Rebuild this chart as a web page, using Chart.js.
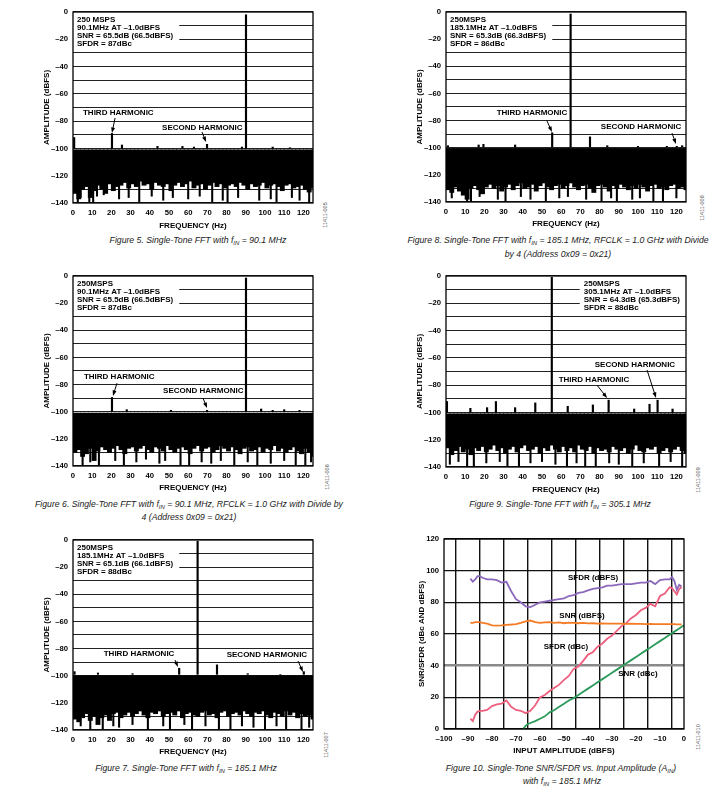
<!DOCTYPE html>
<html>
<head>
<meta charset="utf-8">
<script src="https://cdn.jsdelivr.net/npm/chart.js@4.4.1/dist/chart.umd.min.js"></script>
<style>
  body { margin: 0; background: #fff; width: 721px; height: 800px; position: relative; overflow: hidden;
         font-family: "Liberation Sans", Arial, sans-serif; }
  canvas { position: absolute; }
  .cap { position: absolute; font-style: italic; font-size: 8.7px; color: #222; white-space: nowrap;
         transform: translate(-50%, -50%); line-height: 1; }
  .cap sub { font-size: 6px; vertical-align: baseline; position: relative; top: 1.5px; }
  .fid { position: absolute; font-size: 5.5px; color: #555; white-space: nowrap;
         transform: translate(-50%, -50%) rotate(-90deg); }
</style>
</head>
<body>
<canvas id="fig5"></canvas>
<canvas id="fig8"></canvas>
<canvas id="fig6"></canvas>
<canvas id="fig9"></canvas>
<canvas id="fig7"></canvas>
<canvas id="fig10"></canvas>

<div class="cap" style="left:198px;top:240px">Figure 5. Single-Tone FFT with f<sub>IN</sub> = 90.1 MHz</div>
<div class="cap" style="left:558px;top:240px">Figure 8. Single-Tone FFT with f<sub>IN</sub> = 185.1 MHz, RFCLK = 1.0 GHz with Divide</div>
<div class="cap" style="left:558px;top:254px">by 4 (Address 0x09 = 0x21)</div>
<div class="cap" style="left:189px;top:504px">Figure 6. Single-Tone FFT with f<sub>IN</sub> = 90.1 MHz, RFCLK = 1.0 GHz with Divide by</div>
<div class="cap" style="left:189px;top:517px">4 (Address 0x09 = 0x21)</div>
<div class="cap" style="left:560px;top:504px">Figure 9. Single-Tone FFT with f<sub>IN</sub> = 305.1 MHz</div>
<div class="cap" style="left:186px;top:768px">Figure 7. Single-Tone FFT with f<sub>IN</sub> = 185.1 MHz</div>
<div class="cap" style="left:561px;top:768px">Figure 10. Single-Tone SNR/SFDR vs. Input Amplitude (A<sub>IN</sub>)</div>
<div class="cap" style="left:562px;top:781px">with f<sub>IN</sub> = 185.1 MHz</div>

<div class="fid" style="left:325px;top:215px">11411-005</div>
<div class="fid" style="left:702px;top:208px">11411-008</div>
<div class="fid" style="left:327px;top:477px">11411-006</div>
<div class="fid" style="left:698px;top:480px">11411-009</div>
<div class="fid" style="left:326px;top:745px">11411-007</div>
<div class="fid" style="left:698px;top:737px">11411-010</div>

<script>
// ---- tick values ----
const fftTicksX = [0, 10, 20, 30, 40, 50, 60, 70, 80, 90, 100, 110, 120];
const fftTicksY = [-140, -130, -120, -110, -100, -90, -80, -70, -60, -50, -40, -30, -20, -10, 0];
const ampTicksX = [-100, -95, -90, -85, -80, -75, -70, -65, -60, -55, -50, -45, -40, -35, -30, -25, -20, -15, -10, -5, 0];
const ampTicksY = [0, 20, 40, 60, 80, 100, 120];

// ---- FFT noise floor: bottom edge per 2 Hz bin, thin dropouts, spurs [freq, dBFS] ----
const fig5Lo = [-133,-137,-130,-128,-136,-131,-127,-130,-133,-126,-131,-128,-127,-125,-129,-126,
                -128,-124,-127,-126,-130,-125,-127,-128,-126,-131,-127,-125,-128,-126,-124,-129,
                -127,-126,-130,-127,-125,-128,-126,-129,-127,-126,-128,-125,-127,-130,-126,-128,
                -127,-125,-129,-127,-126,-128,-131,-127,-126,-129,-128,-127,-130,-132,-129];
const fig5Drops = [[2.5,-140],[4,-136],[8.5,-139],[10.5,-140],[12.5,-135],[16,-134],[24,-137],[29,-136],
                   [34.5,-139],[41,-135],[47,-138],[52,-136],[60,-137],[66,-135],[72.5,-139],[78,-138],
                   [80.5,-140],[86,-136],[97,-138],[103,-137],[106,-139],[114,-136],[118,-138],[123,-140]];
const fig5Spurs = [[0.6,-92],[20.3,-89],[25.5,-97.5],[44,-98.5],[57,-98.5],[63,-99],[69.8,-97],
                   [88,-99],[90.1,-2],[104,-99],[113,-99.5]];

const fig8Lo = [-131,-133,-129,-132,-135,-138,-130,-128,-131,-134,-129,-127,-130,-128,-132,-129,
                -127,-131,-128,-126,-130,-129,-127,-132,-128,-126,-129,-131,-128,-127,-130,-128,
                -126,-129,-131,-128,-127,-130,-133,-128,-127,-129,-132,-128,-130,-127,-129,-131,
                -128,-130,-127,-129,-132,-128,-127,-130,-129,-131,-128,-127,-130,-129,-131];
const fig8Drops = [[3,-137],[11,-140],[13,-140],[17.5,-136],[27,-138],[31,-140],[39,-136],[44,-138],
                   [52,-139],[59,-137],[63.5,-136],[73,-138],[81,-140],[86,-137],[89,-139],[97,-138],
                   [101,-137],[108,-139],[113,-140],[120,-137]];
const fig8Spurs = [[1,-98.5],[17,-98],[19.5,-97.5],[36,-98],[55.3,-89],[64.9,-1.5],[75,-92],
                   [84,-98.5],[100,-99],[115,-99],[120.2,-99],[123,-98.5]];

const fig6Lo = [-130,-128,-133,-131,-127,-136,-129,-126,-128,-130,-127,-125,-128,-131,-127,-126,
                -129,-127,-125,-128,-130,-126,-127,-129,-125,-128,-130,-127,-126,-128,-131,-127,
                -125,-129,-127,-126,-130,-128,-125,-127,-129,-126,-128,-131,-127,-126,-129,-128,
                -126,-130,-127,-128,-125,-129,-127,-130,-128,-126,-129,-131,-127,-130,-133];
const fig6Drops = [[5,-139],[9,-137],[13.5,-140],[22,-136],[26.5,-139],[33,-137],[38,-135],[45,-138],
                   [48,-136],[56,-139],[60.5,-140],[67,-137],[72,-138],[77,-136],[84,-139],[91,-137],
                   [96,-140],[103,-138],[110,-136],[116,-139],[121,-140],[124,-137]];
const fig6Spurs = [[20.3,-89.5],[28,-98.5],[51,-99],[69.8,-99],[90.1,-1.5],[98,-98],[104,-99],
                   [110,-98.5],[118,-99]];

const fig9Lo = [-126,-131,-128,-125,-129,-127,-131,-126,-128,-125,-129,-127,-124,-128,-126,-130,
                -127,-125,-129,-126,-124,-128,-127,-125,-130,-126,-128,-124,-127,-129,-125,-128,
                -126,-129,-124,-127,-128,-125,-130,-126,-128,-127,-129,-125,-127,-128,-126,-130,
                -127,-124,-128,-129,-126,-127,-125,-130,-128,-126,-129,-127,-125,-128,-130];
const fig9Drops = [[2,-138],[6.5,-136],[11,-140],[14.5,-140],[21,-137],[28,-136],[32,-139],[38,-140],
                   [44,-137],[50,-136],[57,-138],[63,-140],[68,-137],[72.5,-140],[78,-139],[85,-137],
                   [90,-138],[97,-140],[103,-137],[111,-139],[117,-136],[123,-140]];
const fig9Spurs = [[0.5,-92],[12.7,-97],[21.4,-96.5],[26,-92],[36,-96.5],[46.5,-93],[55.1,-1],
                   [63.4,-95.5],[76.5,-94.5],[84.7,-91],[98,-97.5],[106,-94],[110.2,-91],[118,-97.5]];

const fig7Lo = [-132,-134,-131,-128,-133,-130,-136,-131,-129,-133,-128,-127,-131,-129,-127,-130,
                -128,-126,-129,-131,-127,-128,-126,-130,-128,-127,-129,-126,-131,-128,-127,-129,
                -130,-127,-126,-129,-128,-131,-127,-126,-130,-128,-127,-129,-126,-128,-130,-127,
                -128,-126,-129,-131,-127,-128,-130,-126,-129,-127,-131,-128,-130,-129,-132];
const fig7Drops = [[4,-137],[9,-140],[15.5,-140],[21,-137],[24,-138],[31,-136],[39,-140],[47,-137],
                   [50.5,-139],[58,-136],[62,-140],[69,-137],[76,-139],[82,-140],[88,-137],[94,-138],
                   [100,-140],[106,-137],[111,-139],[119,-140],[123,-138]];
const fig7Spurs = [[0.8,-97],[13,-98],[31,-98.5],[55.3,-94.5],[64.9,-1],[75,-92],[91,-98.5],
                   [108,-99],[120.2,-97]];

// ---- Figure 10: SNR/SFDR vs input amplitude ----
const ampIn = [-89,-88,-87,-86,-85,-84,-82,-80,-78,-76,-74,-72,-70,-68,-66,-64,-62,-60,-58,-56,
               -54,-52,-50,-48,-46,-44,-42,-40,-38,-36,-34,-32,-30,-28,-26,-24,-22,-20,-18,-16,
               -14,-12,-10,-8,-6,-5,-4,-3,-2,-1];
const sfdrDbfs = [95,93,94.5,96.5,96.5,95.5,94.5,94.5,94,92.5,93,87,82,80,77.5,77,78.5,80,80.5,81,
                  81.5,82,82.5,84,84.5,86,86.5,87.5,88.5,89,89.5,90.5,90.5,91,91.5,91.5,91.5,92,92.5,92.5,
                  93.5,91.5,94,94.5,94.5,96,93.5,88,91,90];
const snrDbfs = [67,67,67.5,67.5,67.5,67,66.5,65.5,65.3,65.5,65.8,66,66.3,67,68,68.5,67.5,67,67.3,67.5,
                 67,67.3,66.8,67.2,67,66.8,67,66.7,66.8,66.6,66.7,66.5,66.6,66.5,66.5,66.4,66.5,66.4,66.4,66.3,
                 66.4,66.3,66.3,66.3,66.2,66.2,66.2,66.1,66.1,66];
const sfdrDbc = [6.5,5,9,11,11.5,11.5,12,14.5,15.5,16,18,14,12,11.5,10,11.5,15,20,21.5,24,
                 26,28,31,33.5,38,39.5,43,47,48.5,52,54,57,59,62,65,67,70,72,75,76.5,
                 79,77.5,84,85.5,89.5,89,87,85,88.5,89.5];
const snrDbcAmp = [-67,-66,-65,-64,-62,-60,-58,-56,-54,-52,-50,-48,-46,-44,-42,-40,-38,-36,-34,-32,
                   -30,-28,-26,-24,-22,-20,-18,-16,-14,-12,-10,-8,-6,-4,-2,0];
const snrDbc = [0,2,3.2,3.8,5,6.5,8,10.5,12,14,16,18,19.5,21.5,23.5,25.5,27.5,29.5,31.5,33.5,
                35.5,37.5,39.5,41.5,43.5,45.5,47.5,49.5,51.5,53.5,55.5,57.5,59.5,61.5,63.5,65.5];

const FONT = '"Liberation Sans", Arial, sans-serif';
const tickFont = { family: FONT, size: 7.7, weight: 'bold' };
const titleFont = { family: FONT, size: 8, weight: 'bold' };
const fmt = v => (v < 0 ? '\u2013' + Math.abs(v) : String(v));

Chart.defaults.animation = false;
Chart.defaults.events = [];
Chart.defaults.plugins.legend.display = false;
Chart.defaults.plugins.tooltip.enabled = false;

function place(cv, box) {
  const w = box.w + 44, h = box.h + 37;
  cv.width = w; cv.height = h;
  cv.style.left = (box.x - 36) + 'px';
  cv.style.top = (box.y - 7) + 'px';
  cv.style.width = w + 'px'; cv.style.height = h + 'px';
}

function drawArrow(ctx, x1, y1, x2, y2) {
  const ang = Math.atan2(y2 - y1, x2 - x1);
  ctx.strokeStyle = '#000'; ctx.fillStyle = '#000'; ctx.lineWidth = 1;
  ctx.beginPath(); ctx.moveTo(x1, y1);
  ctx.lineTo(x2 - 4 * Math.cos(ang), y2 - 4 * Math.sin(ang)); ctx.stroke();
  ctx.beginPath();
  ctx.moveTo(x2, y2);
  ctx.lineTo(x2 - 5.5 * Math.cos(ang) + 2 * Math.sin(ang), y2 - 5.5 * Math.sin(ang) - 2 * Math.cos(ang));
  ctx.lineTo(x2 - 5.5 * Math.cos(ang) - 2 * Math.sin(ang), y2 - 5.5 * Math.sin(ang) + 2 * Math.cos(ang));
  ctx.closePath(); ctx.fill();
}

const framePlugin = {
  id: 'frame',
  afterDatasetsDraw(chart, args, opts) {
    const ctx = chart.ctx, a = chart.chartArea, sx = chart.scales.x, sy = chart.scales.y;
    ctx.save();
    if (opts.info) {
      ctx.font = 'bold 8px ' + FONT;
      const w = Math.max(...opts.info.map(t => ctx.measureText(t).width));
      const bx = opts.infoRight ? a.right - w - 10 : a.left;
      ctx.fillStyle = '#fff';
      ctx.fillRect(bx, a.top, w + 10, opts.info.length * 8.2 + 5);
      ctx.fillStyle = '#000'; ctx.textAlign = 'left'; ctx.textBaseline = 'middle';
      opts.info.forEach((t, i) => ctx.fillText(t, bx + 4, a.top + 7.5 + i * 8.2));
    }
    (opts.notes || []).forEach(n => {
      ctx.font = 'bold 8px ' + FONT;
      ctx.fillStyle = '#000'; ctx.textAlign = n.align || 'center'; ctx.textBaseline = 'middle';
      ctx.fillText(n.text, sx.getPixelForValue(n.x), sy.getPixelForValue(n.y));
      if (n.from) drawArrow(ctx, sx.getPixelForValue(n.from[0]), sy.getPixelForValue(n.from[1]),
                            sx.getPixelForValue(n.to[0]), sy.getPixelForValue(n.to[1]));
    });
    ctx.strokeStyle = '#000'; ctx.lineWidth = 1.3;
    ctx.strokeRect(a.left, a.top, a.right - a.left, a.bottom - a.top);
    ctx.restore();
  }
};

function fftChart(id, box, lo, drops, spurs, top, info, infoRight, notes) {
  const cv = document.getElementById(id);
  place(cv, box);
  const pxHz = box.w / 125;
  new Chart(cv, {
    type: 'bar',
    data: {
      datasets: [
        { data: lo.map((v, i) => ({ x: 1 + 2 * i, y: [v, top] })), backgroundColor: '#000',
          barThickness: pxHz * 2 + 0.4, grouped: false },
        { data: drops.map(p => ({ x: p[0], y: [p[1], -118] })), backgroundColor: '#000',
          barThickness: 1.4, grouped: false },
        { data: spurs.map(p => ({ x: p[0], y: [top + 1, p[1]] })), backgroundColor: '#000',
          barThickness: 1.5, grouped: false }
      ]
    },
    options: {
      responsive: false,
      layout: { padding: { left: 0, top: 7, right: 8, bottom: 0 } },
      plugins: { frame: { info, infoRight, notes } },
      scales: {
        x: {
          type: 'linear', min: 0, max: 125, offset: false,
          afterBuildTicks: s => { s.ticks = fftTicksX.map(v => ({ value: v })); },
          afterFit: s => { s.height = 30; s.paddingLeft = 0; s.paddingRight = 0; },
          grid: { display: false, drawTicks: false }, border: { display: false },
          ticks: { font: tickFont, color: '#000', padding: 5, maxRotation: 0, autoSkip: false, callback: v => fmt(v) },
          title: { display: true, text: 'FREQUENCY (Hz)', font: titleFont, color: '#000', padding: { top: 0, bottom: box.xt } }
        },
        y: {
          type: 'linear', min: -140, max: 0,
          afterBuildTicks: s => { s.ticks = fftTicksY.map(v => ({ value: v })); },
          afterFit: s => { s.width = 36; s.paddingTop = 0; s.paddingBottom = 0; },
          grid: { color: '#222', lineWidth: 1.1, drawTicks: false }, border: { display: false },
          ticks: { font: tickFont, color: '#000', padding: 5, autoSkip: false, callback: v => (v % 20 === 0 ? fmt(v) : '') },
          title: { display: true, text: 'AMPLITUDE (dBFS)', font: titleFont, color: '#000', padding: { top: box.yt, bottom: 0 } }
        }
      }
    },
    plugins: [framePlugin]
  });
}

fftChart('fig5', { x: 73, y: 12, w: 240, h: 191, xt: 2, yt: 5 }, fig5Lo, fig5Drops, fig5Spurs, -101,
  ['250 MSPS', '90.1MHz AT \u20131.0dBFS', 'SNR = 65.5dB (66.5dBFS)', 'SFDR = 87dBc'], false,
  [{ text: 'THIRD HARMONIC', x: 5.2, y: -74, align: 'left', from: [21.9, -77.7], to: [20.3, -88.7] },
   { text: 'SECOND HARMONIC', x: 46.4, y: -85, align: 'left', from: [67.2, -88], to: [69.3, -95.3] }]);

fftChart('fig8', { x: 446, y: 12, w: 240, h: 190, xt: 3, yt: 5 }, fig8Lo, fig8Drops, fig8Spurs, -100.5,
  ['250MSPS', '185.1MHz AT \u20131.0dBFS', 'SNR = 65.3dB (66.3dBFS)', 'SFDR = 86dBc'], false,
  [{ text: 'THIRD HARMONIC', x: 44.8, y: -74.4, from: [52.6, -80.3], to: [55.2, -88.4] },
   { text: 'SECOND HARMONIC', x: 101.6, y: -84.7, from: [117.7, -89.2], to: [119.8, -97.3] }]);

fftChart('fig6', { x: 73, y: 276, w: 240, h: 190, xt: 3, yt: 5 }, fig6Lo, fig6Drops, fig6Spurs, -101,
  ['250MSPS', '90.1MHz AT \u20131.0dBFS', 'SNR = 65.5dB (66.5dBFS)', 'SFDR = 87dBc'], false,
  [{ text: 'THIRD HARMONIC', x: 5.7, y: -74.4, align: 'left', from: [22.9, -79], to: [20.8, -88.4] },
   { text: 'SECOND HARMONIC', x: 46.9, y: -84.7, align: 'left', from: [67.7, -89.9], to: [69.8, -97.3] }]);

fftChart('fig9', { x: 446, y: 276, w: 240, h: 191, xt: 2, yt: 5 }, fig9Lo, fig9Drops, fig9Spurs, -101,
  ['250MSPS', '305.1MHz AT \u20131.0dBFS', 'SNR = 64.3dB (65.3dBFS)', 'SFDR = 88dBc'], true,
  [{ text: 'SECOND HARMONIC', x: 98.4, y: -65.2, from: [104.7, -68.9], to: [109.4, -89.4] },
   { text: 'THIRD HARMONIC', x: 77.1, y: -76.2, from: [78.6, -79.9], to: [83.9, -89.4] }]);

fftChart('fig7', { x: 73, y: 540, w: 240, h: 190, xt: 3, yt: 5 }, fig7Lo, fig7Drops, fig7Spurs, -100,
  ['250MSPS', '185.1MHz AT \u20131.0dBFS', 'SNR = 65.1dB (66.1dBFS)', 'SFDR = 88dBc'], false,
  [{ text: 'THIRD HARMONIC', x: 34.4, y: -84, from: [53.1, -88.4], to: [54.7, -93.6] },
   { text: 'SECOND HARMONIC', x: 101, y: -84.7, from: [117.2, -89.2], to: [119.8, -97.3] }]);

// ---- Figure 10 ----
(function () {
  const box = { x: 444, y: 539, w: 240, h: 190 };
  const cv = document.getElementById('fig10');
  place(cv, box);
  const line = (xs, ys, color) => ({
    data: ys.map((v, i) => ({ x: xs[i], y: v })), borderColor: color, borderWidth: 1.8,
    pointRadius: 0, tension: 0, fill: false
  });
  new Chart(cv, {
    type: 'line',
    data: {
      datasets: [
        line(ampIn, sfdrDbfs, '#8b68bb'),
        line(ampIn, snrDbfs, '#f47b23'),
        line(ampIn, sfdrDbc, '#ee5f7e'),
        line(snrDbcAmp, snrDbc, '#2d9a5c')
      ]
    },
    options: {
      responsive: false,
      layout: { padding: { left: 0, top: 7, right: 8, bottom: 0 } },
      plugins: {
        frame: {
          notes: [
            { text: 'SFDR (dBFS)', x: -37.9, y: 95.4 },
            { text: 'SNR (dBFS)', x: -42.5, y: 71.4 },
            { text: 'SFDR (dBc)', x: -49.2, y: 51.8 },
            { text: 'SNR (dBc)', x: -19.2, y: 34.7 }
          ]
        }
      },
      scales: {
        x: {
          type: 'linear', min: -100, max: 0,
          afterBuildTicks: s => { s.ticks = ampTicksX.map(v => ({ value: v })); },
          afterFit: s => { s.height = 30; s.paddingLeft = 0; s.paddingRight = 0; },
          grid: { drawTicks: false, lineWidth: 1.4,
                  color: c => (c.tick && c.tick.value % 10 !== 0 ? '#111' : 'rgba(0,0,0,0)') },
          border: { display: false },
          ticks: { font: tickFont, color: '#000', padding: 5, maxRotation: 0, autoSkip: false,
                   callback: v => (v % 10 === 0 ? fmt(v) : '') },
          title: { display: true, text: 'INPUT AMPLITUDE (dBFS)', font: titleFont, color: '#000', padding: { top: 0, bottom: 3 } }
        },
        y: {
          type: 'linear', min: 0, max: 120,
          afterBuildTicks: s => { s.ticks = ampTicksY.map(v => ({ value: v })); },
          afterFit: s => { s.width = 36; s.paddingTop = 0; s.paddingBottom = 0; },
          grid: { drawTicks: false,
                  color: c => (c.tick && c.tick.value === 40 ? '#8a8a8a' : '#111'),
                  lineWidth: c => (c.tick && c.tick.value === 40 ? 2.6 : 1.2) },
          border: { display: false },
          ticks: { font: tickFont, color: '#000', padding: 5, autoSkip: false, callback: v => fmt(v) },
          title: { display: true, text: 'SNR/SFDR (dBc AND dBFS)', font: titleFont, color: '#000', padding: { top: 9, bottom: 0 } }
        }
      }
    },
    plugins: [framePlugin]
  });
})();
</script>
</body>
</html>
